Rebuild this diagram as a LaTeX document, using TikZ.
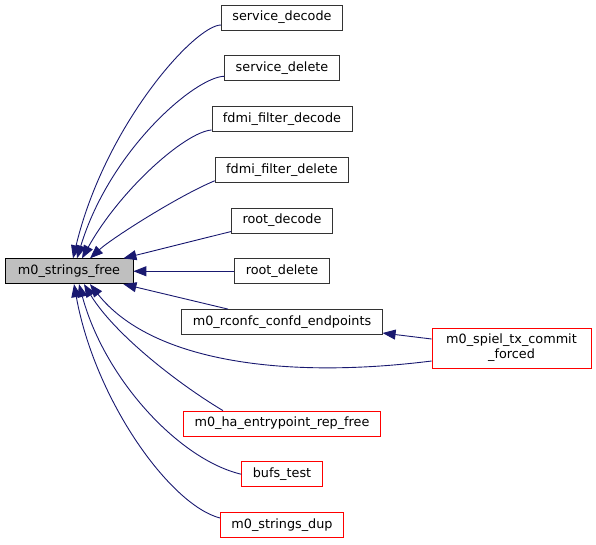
\documentclass[tikz,border=0pt]{standalone}
\usepackage{fontspec}
\setmainfont{DejaVu Sans}
\usetikzlibrary{arrows.meta,positioning}
\definecolor{edgeblue}{HTML}{191970}
\definecolor{callred}{HTML}{FF0000}
\definecolor{focusgray}{HTML}{BFBFBF}

\begin{document}
\begin{tikzpicture}[x=1pt, y=-1pt,
    fn/.style={draw=black!80, fill=white, line width=0.8pt, font=\fontsize{12.8}{15}\selectfont, minimum height=25pt, inner xsep=11pt, inner ysep=0pt, text height=9.5pt, text depth=3pt},
    focus/.style={fn, fill=focusgray, draw=black, minimum width=128pt},
    extern/.style={fn, draw=callred},
    call/.style={edgeblue, line width=0.9pt, -{Triangle[length=13pt, width=10pt]}},
    node distance=24.95pt
  ]
    \useasboundingbox (0,0) rectangle (596,544);
    \node[fn] (sdec) at (282,17.5) {service\_decode};
    \node[fn, below=of sdec] (sdel) {service\_delete};
    \node[fn, below=of sdel] (fdec) {fdmi\_filter\_decode};
    \node[fn, below=of fdec] (fdel) {fdmi\_filter\_delete};
    \node[fn, below=of fdel] (rdec) {root\_decode};
    \node[fn, below=of rdec] (rdel) {root\_delete};
    \node[fn, below=of rdel] (rconfc) {m0\_rconfc\_confd\_endpoints};
    \node[extern, below=75.7pt of rconfc] (ha) {m0\_ha\_entrypoint\_rep\_free};
    \node[extern, below=of ha] (bufs) {bufs\_test};
    \node[extern, below=of bufs] (dup) {m0\_strings\_dup};
    \node[focus, left=101pt of rdel] (free) {m0\_strings\_free};
    \node[extern, align=center, minimum height=40pt, minimum width=159pt, text height=, text depth=] (spiel) at (511.5,348) {m0\_spiel\_tx\_commit\\\_forced};
    \draw[call] ([yshift=-7.5pt]sdec.west) .. controls (195,25) and (105,125) .. ([xshift=4pt]free.north);
    \draw[call] ([yshift=-8pt]sdel.west) .. controls (195,77) and (110,150) .. ([xshift=8pt]free.north);
    \draw[call] ([yshift=-11pt]fdec.west) .. controls (185,132) and (120,190) .. ([xshift=13pt]free.north);
    \draw[call] ([yshift=-11pt]fdel.west) .. controls (180,195) and (112,238) .. ([xshift=21pt]free.north);
    \draw[call] ([yshift=-11pt]rdec.west) -- ([xshift=-10pt]free.north east);
    \draw[call] (rdel.west) -- (free.east);
    \draw[call] ([xshift=-54pt]rconfc.north) -- ([xshift=-10pt]free.south east);
    \draw[call] ([yshift=9pt]spiel.west) -- ([yshift=-11pt]rconfc.east);
    \draw[call] ([yshift=-13pt]spiel.west) .. controls (280,380) and (150,360) .. ([xshift=21pt]free.south);
    \draw[call] ([xshift=-59pt]ha.north) .. controls (180,385) and (115,335) .. ([xshift=15pt]free.south);
    \draw[call] (bufs.west) .. controls (180,460) and (105,380) .. ([xshift=10pt]free.south);
    \draw[call] ([yshift=7pt]dup.west) .. controls (170,505) and (95,400) .. ([xshift=5pt]free.south);
  \end{tikzpicture}
\end{document}
